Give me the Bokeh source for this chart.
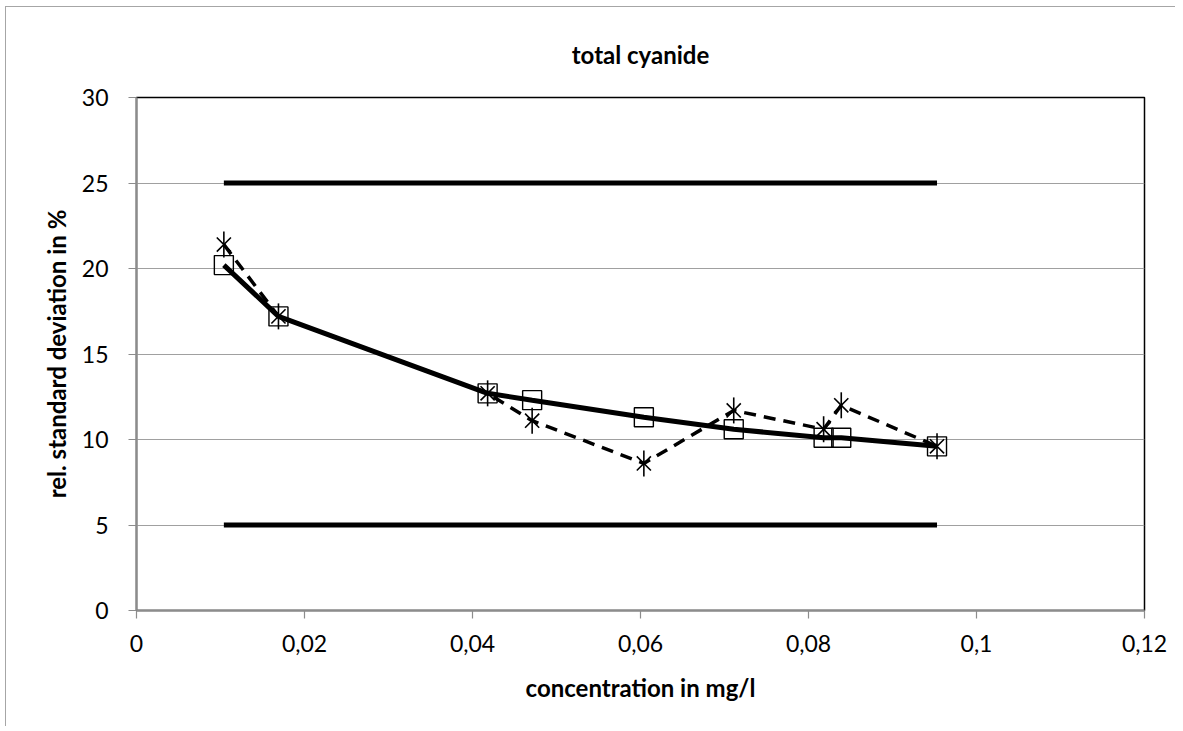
from bokeh.plotting import figure
from bokeh.models import Range1d, FixedTicker, CustomJSTickFormatter
from bokeh.embed import file_html
from bokeh.resources import INLINE
import math

# ---- data ----
title_text = "total cyanide"
x_label = "concentration in mg/l"
y_label = "rel. standard deviation in %"

conc = [0.0104, 0.0169, 0.0418, 0.0471, 0.0604, 0.0711, 0.0818, 0.0839, 0.0953]
rsd_fit = [20.2, 17.2, 12.7, 12.3, 11.3, 10.6, 10.1, 10.1, 9.6]
rsd_lab = [21.4, 17.2, 12.7, 11.1, 8.6, 11.7, 10.6, 12.0, 9.6]
limit_x = [0.0104, 0.0953]
upper_limit = [25, 25]
lower_limit = [5, 5]

x_ticks = [0, 0.02, 0.04, 0.06, 0.08, 0.1, 0.12]
y_ticks = [0, 5, 10, 15, 20, 25, 30]

FONT = "Lato"

p = figure(width=1170, height=720, output_backend="svg", toolbar_location=None,
           x_range=Range1d(0, 0.12), y_range=Range1d(0, 30),
           min_border_left=130, min_border_top=90, min_border_right=32,
           min_border_bottom=117)
p.styles = {"margin-left": "5px", "margin-top": "6px",
            "border-left": "1px solid #a6a6a6", "border-top": "1px solid #a6a6a6"}

p.title.text = title_text
p.title.align = "center"
p.title.vertical_align = "middle"
p.title.text_font = FONT
p.title.text_font_style = "bold"
p.title.text_font_size = "24px"
p.title.text_color = "black"
p.title.standoff = 56

p.outline_line_color = "black"
p.outline_line_width = 1.5
p.background_fill_color = "white"
p.border_fill_color = "white"

p.xgrid.grid_line_color = None
p.ygrid.grid_line_color = "#a0a0a0"
p.ygrid.grid_line_width = 1.2
p.ygrid.ticker = FixedTicker(ticks=y_ticks)

for ax in (p.xaxis[0], p.yaxis[0]):
    ax.axis_line_color = "#8c8c8c"
    ax.axis_line_width = 2
    ax.major_tick_line_color = "#8c8c8c"
    ax.major_tick_line_width = 1.2
    ax.major_tick_out = 8
    ax.major_tick_in = 0
    ax.minor_tick_line_color = None
    ax.major_label_text_font = FONT
    ax.major_label_text_font_size = "23px"
    ax.major_label_text_color = "black"
    ax.axis_label_text_font = FONT
    ax.axis_label_text_font_style = "bold"
    ax.axis_label_text_font_size = "24px"
    ax.axis_label_text_color = "black"

p.xaxis.ticker = FixedTicker(ticks=x_ticks)
p.yaxis.ticker = FixedTicker(ticks=y_ticks)
p.xaxis.formatter = CustomJSTickFormatter(code="""
    if (Math.abs(tick) < 1e-12) return '0';
    return (Math.round(tick*100)/100).toString().replace('.', ',');
""")
p.xaxis.axis_label = x_label
p.yaxis.axis_label = y_label
p.xaxis.major_label_standoff = 16
p.yaxis.major_label_standoff = 20
p.xaxis.axis_label_standoff = 18
p.yaxis.axis_label_standoff = 8

# limit lines
p.line(limit_x, upper_limit, line_color="black", line_width=5)
p.line(limit_x, lower_limit, line_color="black", line_width=5)

# fit line with squares
p.line(conc, rsd_fit, line_color="black", line_width=5)
p.scatter(conc, rsd_fit, marker="square", size=19, fill_color=None,
          line_color="black", line_width=1.4)

# lab line with stars (dashed)
p.line(conc, rsd_lab, line_color="black", line_width=3.5, line_dash="12 8")
p.scatter(conc, rsd_lab, marker="x", size=20, line_color="black", line_width=1.6)
p.scatter(conc, rsd_lab, marker="dash", size=26, angle=math.pi / 2,
          line_color="black", line_width=1.6)

open("out.html", "w").write(file_html(p, INLINE))
